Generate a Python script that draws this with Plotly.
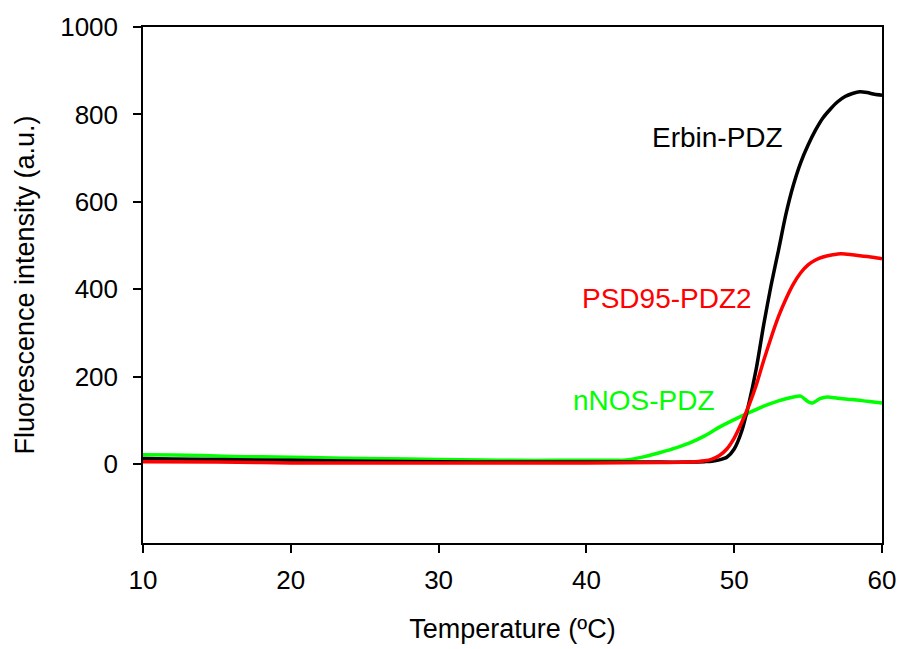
import plotly.graph_objects as go

# Erbin-PDZ (black)
erbin_t = [10, 12, 15, 20, 25, 30, 35, 40, 45, 47, 48, 48.5, 49, 49.5, 50, 50.5, 51, 51.5, 52, 52.5,
           53, 53.5, 54, 54.5, 55, 55.5, 56, 56.5, 57, 57.5, 58, 58.5, 59, 59.5, 60]
erbin_v = [13, 12, 11, 9, 7, 6, 5, 5, 5, 5, 6, 7, 10, 16, 35, 75, 140, 220, 320, 410,
           490, 572, 638, 690, 730, 764, 792, 812, 829, 841, 848, 852, 850, 846, 844]

# PSD95-PDZ2 (red)
psd_t = [10, 15, 18, 20, 25, 30, 35, 40, 45, 47, 48, 48.5, 49, 49.5, 50, 50.5, 51, 51.5, 52, 52.5,
         53, 53.5, 54, 54.5, 55, 55.5, 56, 56.5, 57, 57.5, 58, 58.5, 59, 59.5, 60]
psd_v = [6, 5, 4, 3, 3, 3, 3, 3, 4, 5, 8, 12, 20, 35, 60, 95, 135, 182, 238, 290,
         338, 378, 412, 438, 456, 467, 474, 478, 481, 481, 479, 477, 475, 473, 470]

# nNOS-PDZ (green)
nnos_t = [10, 12, 14, 16, 18, 20, 22, 25, 28, 30, 33, 35, 38, 40, 42, 42.5, 43, 44, 45, 46, 47, 48,
          49, 50, 51, 52, 53, 53.5, 54, 54.5, 55, 55.3, 55.8, 56.3, 57, 58, 59, 60]
nnos_v = [22, 21, 20, 18, 17, 16, 15, 13, 12, 11, 10, 9, 9, 9, 9, 9, 11, 18, 27, 37, 49, 65,
          85, 102, 118, 133, 145, 150, 154, 156, 143, 140, 150, 154, 151, 148, 144, 140]

labels = ["Erbin-PDZ", "PSD95-PDZ2", "nNOS-PDZ"]
label_x = [48.85, 45.45, 43.9]
label_y = [748, 380, 146]
colors = ["#000000", "#FF0000", "#00FF00"]

FONT = "Liberation Sans, Arial, sans-serif"

fig = go.Figure()
for t, v, c, n in [(nnos_t, nnos_v, colors[2], labels[2]),
                   (erbin_t, erbin_v, colors[0], labels[0]),
                   (psd_t, psd_v, colors[1], labels[1])]:
    fig.add_trace(go.Scatter(x=t, y=v, mode="lines", name=n,
                             line=dict(color=c, width=3.5, shape="spline", smoothing=0.7)))

for txt, x, y, c in zip(labels, label_x, label_y, colors):
    fig.add_annotation(x=x, y=y, text=txt, showarrow=False,
                       font=dict(family=FONT, size=28, color=c))

fig.update_layout(
    width=900, height=649,
    margin=dict(l=143, r=18, t=27, b=106),
    paper_bgcolor="white", plot_bgcolor="white",
    showlegend=False,
    font=dict(family=FONT, color="black"),
    xaxis=dict(range=[10, 60], tickvals=[10, 20, 30, 40, 50, 60],
               ticks="outside", ticklen=8, tickwidth=1.5, tickcolor="black",
               showline=True, linecolor="black", linewidth=1.5, mirror=True,
               showgrid=False, zeroline=False, automargin=False,
               tickfont=dict(size=26, family=FONT),
               ticklabelstandoff=5,
               title=dict(text="Temperature (ºC)", font=dict(size=27, family=FONT), standoff=25)),
    yaxis=dict(range=[-180, 1000], tickvals=[0, 200, 400, 600, 800, 1000],
               ticks="outside", ticklen=8, tickwidth=1.5, tickcolor="black",
               showline=True, linecolor="black", linewidth=1.5, mirror=True,
               showgrid=False, zeroline=False, automargin=False,
               tickfont=dict(size=26, family=FONT),
               ticklabelstandoff=10,
               title=dict(text="Fluorescence intensity (a.u.)", font=dict(size=27, family=FONT), standoff=18)),
)

fig.write_html("out.html", config={"displayModeBar": False})
with open("out.html", "r", encoding="utf-8") as f:
    html = f.read()
html = html.replace("<head>", "<head><style>html,body{margin:0;padding:0;overflow:hidden}</style>", 1)
with open("out.html", "w", encoding="utf-8") as f:
    f.write(html)
